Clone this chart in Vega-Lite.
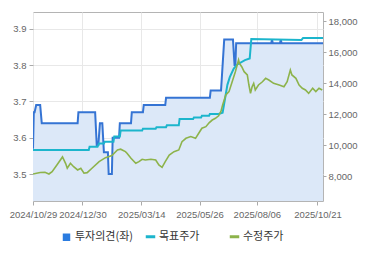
{
  "$schema": "https://vega.github.io/schema/vega-lite/v6.json",
  "autosize": "none",
  "width": 290,
  "height": 189,
  "padding": {"left": 33, "top": 12, "right": 47, "bottom": 54},
  "background": "white",
  "config": {
    "view": {"stroke": "#b4b4b4", "strokeWidth": 1},
    "axis": {"labelFont": "Liberation Sans", "labelFontSize": 9.5, "labelColor": "#666", "tickColor": "#aaa", "domain": false, "title": null, "gridColor": "#e8e8e8"}
  },
  "datasets": {
    "op": [
      {"d": "2024/10/29", "v": 3.57, "s": "투자의견(좌)"},
      {"d": "2024/10/30", "v": 3.67, "s": "투자의견(좌)"},
      {"d": "2024/10/31", "v": 3.67, "s": "투자의견(좌)"},
      {"d": "2024/11/02", "v": 3.69, "s": "투자의견(좌)"},
      {"d": "2024/11/07", "v": 3.69, "s": "투자의견(좌)"},
      {"d": "2024/11/09", "v": 3.64, "s": "투자의견(좌)"},
      {"d": "2024/12/24", "v": 3.64, "s": "투자의견(좌)"},
      {"d": "2024/12/25", "v": 3.67, "s": "투자의견(좌)"},
      {"d": "2025/01/15", "v": 3.67, "s": "투자의견(좌)"},
      {"d": "2025/01/17", "v": 3.58, "s": "투자의견(좌)"},
      {"d": "2025/01/19", "v": 3.58, "s": "투자의견(좌)"},
      {"d": "2025/01/21", "v": 3.64, "s": "투자의견(좌)"},
      {"d": "2025/01/24", "v": 3.64, "s": "투자의견(좌)"},
      {"d": "2025/01/26", "v": 3.56, "s": "투자의견(좌)"},
      {"d": "2025/01/31", "v": 3.56, "s": "투자의견(좌)"},
      {"d": "2025/02/01", "v": 3.50, "s": "투자의견(좌)"},
      {"d": "2025/02/05", "v": 3.50, "s": "투자의견(좌)"},
      {"d": "2025/02/06", "v": 3.60, "s": "투자의견(좌)"},
      {"d": "2025/02/14", "v": 3.60, "s": "투자의견(좌)"},
      {"d": "2025/02/15", "v": 3.64, "s": "투자의견(좌)"},
      {"d": "2025/03/01", "v": 3.64, "s": "투자의견(좌)"},
      {"d": "2025/03/02", "v": 3.67, "s": "투자의견(좌)"},
      {"d": "2025/03/16", "v": 3.67, "s": "투자의견(좌)"},
      {"d": "2025/03/17", "v": 3.69, "s": "투자의견(좌)"},
      {"d": "2025/04/13", "v": 3.69, "s": "투자의견(좌)"},
      {"d": "2025/04/14", "v": 3.71, "s": "투자의견(좌)"},
      {"d": "2025/06/08", "v": 3.71, "s": "투자의견(좌)"},
      {"d": "2025/06/09", "v": 3.73, "s": "투자의견(좌)"},
      {"d": "2025/06/22", "v": 3.73, "s": "투자의견(좌)"},
      {"d": "2025/06/26", "v": 3.87, "s": "투자의견(좌)"},
      {"d": "2025/07/07", "v": 3.87, "s": "투자의견(좌)"},
      {"d": "2025/07/09", "v": 3.80, "s": "투자의견(좌)"},
      {"d": "2025/07/10", "v": 3.80, "s": "투자의견(좌)"},
      {"d": "2025/07/11", "v": 3.86, "s": "투자의견(좌)"},
      {"d": "2025/08/24", "v": 3.86, "s": "투자의견(좌)"},
      {"d": "2025/08/25", "v": 3.87, "s": "투자의견(좌)"},
      {"d": "2025/08/26", "v": 3.86, "s": "투자의견(좌)"},
      {"d": "2025/09/04", "v": 3.86, "s": "투자의견(좌)"},
      {"d": "2025/09/05", "v": 3.87, "s": "투자의견(좌)"},
      {"d": "2025/09/06", "v": 3.86, "s": "투자의견(좌)"},
      {"d": "2025/10/28", "v": 3.86, "s": "투자의견(좌)"}
    ],
    "tp": [
      {"d": "2024/10/29", "v": 9700, "s": "목표주가"},
      {"d": "2025/01/07", "v": 9700, "s": "목표주가"},
      {"d": "2025/01/08", "v": 9900, "s": "목표주가"},
      {"d": "2025/01/18", "v": 9900, "s": "목표주가"},
      {"d": "2025/01/20", "v": 10120, "s": "목표주가"},
      {"d": "2025/01/26", "v": 10120, "s": "목표주가"},
      {"d": "2025/01/27", "v": 10230, "s": "목표주가"},
      {"d": "2025/02/07", "v": 10230, "s": "목표주가"},
      {"d": "2025/02/08", "v": 10560, "s": "목표주가"},
      {"d": "2025/02/15", "v": 10560, "s": "목표주가"},
      {"d": "2025/02/16", "v": 10950, "s": "목표주가"},
      {"d": "2025/03/15", "v": 10950, "s": "목표주가"},
      {"d": "2025/03/16", "v": 11070, "s": "목표주가"},
      {"d": "2025/04/01", "v": 11070, "s": "목표주가"},
      {"d": "2025/04/02", "v": 11170, "s": "목표주가"},
      {"d": "2025/04/14", "v": 11170, "s": "목표주가"},
      {"d": "2025/04/15", "v": 11290, "s": "목표주가"},
      {"d": "2025/04/30", "v": 11290, "s": "목표주가"},
      {"d": "2025/05/01", "v": 11700, "s": "목표주가"},
      {"d": "2025/05/18", "v": 11700, "s": "목표주가"},
      {"d": "2025/05/19", "v": 11800, "s": "목표주가"},
      {"d": "2025/05/28", "v": 11800, "s": "목표주가"},
      {"d": "2025/05/29", "v": 11900, "s": "목표주가"},
      {"d": "2025/06/07", "v": 11900, "s": "목표주가"},
      {"d": "2025/06/08", "v": 12020, "s": "목표주가"},
      {"d": "2025/06/19", "v": 12020, "s": "목표주가"},
      {"d": "2025/06/24", "v": 12100, "s": "목표주가"},
      {"d": "2025/06/27", "v": 13000, "s": "목표주가"},
      {"d": "2025/06/30", "v": 13900, "s": "목표주가"},
      {"d": "2025/07/03", "v": 14400, "s": "목표주가"},
      {"d": "2025/07/08", "v": 14950, "s": "목표주가"},
      {"d": "2025/07/12", "v": 15200, "s": "목표주가"},
      {"d": "2025/07/22", "v": 15500, "s": "목표주가"},
      {"d": "2025/07/28", "v": 15600, "s": "목표주가"},
      {"d": "2025/07/30", "v": 16850, "s": "목표주가"},
      {"d": "2025/10/01", "v": 16800, "s": "목표주가"},
      {"d": "2025/10/03", "v": 16930, "s": "목표주가"},
      {"d": "2025/10/28", "v": 16930, "s": "목표주가"}
    ],
    "pr": [
      {"d": "2024/10/29", "v": 8150, "s": "수정주가"},
      {"d": "2024/11/07", "v": 8240, "s": "수정주가"},
      {"d": "2024/11/13", "v": 8260, "s": "수정주가"},
      {"d": "2024/11/18", "v": 8150, "s": "수정주가"},
      {"d": "2024/11/22", "v": 8300, "s": "수정주가"},
      {"d": "2024/11/28", "v": 8730, "s": "수정주가"},
      {"d": "2024/12/05", "v": 9250, "s": "수정주가"},
      {"d": "2024/12/09", "v": 8820, "s": "수정주가"},
      {"d": "2024/12/11", "v": 8520, "s": "수정주가"},
      {"d": "2024/12/15", "v": 8840, "s": "수정주가"},
      {"d": "2024/12/19", "v": 8620, "s": "수정주가"},
      {"d": "2024/12/24", "v": 8410, "s": "수정주가"},
      {"d": "2024/12/28", "v": 8520, "s": "수정주가"},
      {"d": "2025/01/01", "v": 8200, "s": "수정주가"},
      {"d": "2025/01/05", "v": 8235, "s": "수정주가"},
      {"d": "2025/01/11", "v": 8520, "s": "수정주가"},
      {"d": "2025/01/20", "v": 8945, "s": "수정주가"},
      {"d": "2025/01/28", "v": 9200, "s": "수정주가"},
      {"d": "2025/02/05", "v": 9340, "s": "수정주가"},
      {"d": "2025/02/12", "v": 9700, "s": "수정주가"},
      {"d": "2025/02/16", "v": 9750, "s": "수정주가"},
      {"d": "2025/02/22", "v": 9590, "s": "수정주가"},
      {"d": "2025/02/24", "v": 9490, "s": "수정주가"},
      {"d": "2025/03/01", "v": 9160, "s": "수정주가"},
      {"d": "2025/03/07", "v": 8840, "s": "수정주가"},
      {"d": "2025/03/11", "v": 8945, "s": "수정주가"},
      {"d": "2025/03/15", "v": 9100, "s": "수정주가"},
      {"d": "2025/03/19", "v": 9050, "s": "수정주가"},
      {"d": "2025/03/26", "v": 9100, "s": "수정주가"},
      {"d": "2025/04/01", "v": 9050, "s": "수정주가"},
      {"d": "2025/04/05", "v": 8730, "s": "수정주가"},
      {"d": "2025/04/09", "v": 8580, "s": "수정주가"},
      {"d": "2025/04/13", "v": 8945, "s": "수정주가"},
      {"d": "2025/04/18", "v": 9375, "s": "수정주가"},
      {"d": "2025/04/24", "v": 9590, "s": "수정주가"},
      {"d": "2025/04/30", "v": 9700, "s": "수정주가"},
      {"d": "2025/05/04", "v": 10230, "s": "수정주가"},
      {"d": "2025/05/09", "v": 10450, "s": "수정주가"},
      {"d": "2025/05/15", "v": 10560, "s": "수정주가"},
      {"d": "2025/05/21", "v": 10450, "s": "수정주가"},
      {"d": "2025/05/25", "v": 10780, "s": "수정주가"},
      {"d": "2025/05/29", "v": 11100, "s": "수정주가"},
      {"d": "2025/06/03", "v": 11200, "s": "수정주가"},
      {"d": "2025/06/07", "v": 11450, "s": "수정주가"},
      {"d": "2025/06/11", "v": 11630, "s": "수정주가"},
      {"d": "2025/06/15", "v": 11740, "s": "수정주가"},
      {"d": "2025/06/19", "v": 11900, "s": "수정주가"},
      {"d": "2025/06/22", "v": 12200, "s": "수정주가"},
      {"d": "2025/06/24", "v": 12600, "s": "수정주가"},
      {"d": "2025/06/28", "v": 13250, "s": "수정주가"},
      {"d": "2025/07/02", "v": 13460, "s": "수정주가"},
      {"d": "2025/07/06", "v": 14100, "s": "수정주가"},
      {"d": "2025/07/10", "v": 14750, "s": "수정주가"},
      {"d": "2025/07/14", "v": 15500, "s": "수정주가"},
      {"d": "2025/07/15", "v": 15290, "s": "수정주가"},
      {"d": "2025/07/18", "v": 15070, "s": "수정주가"},
      {"d": "2025/07/21", "v": 14750, "s": "수정주가"},
      {"d": "2025/07/25", "v": 14540, "s": "수정주가"},
      {"d": "2025/07/27", "v": 13890, "s": "수정주가"},
      {"d": "2025/07/29", "v": 13350, "s": "수정주가"},
      {"d": "2025/07/31", "v": 13780, "s": "수정주가"},
      {"d": "2025/08/02", "v": 14000, "s": "수정주가"},
      {"d": "2025/08/04", "v": 13570, "s": "수정주가"},
      {"d": "2025/08/08", "v": 13890, "s": "수정주가"},
      {"d": "2025/08/13", "v": 14100, "s": "수정주가"},
      {"d": "2025/08/17", "v": 14320, "s": "수정주가"},
      {"d": "2025/08/21", "v": 14210, "s": "수정주가"},
      {"d": "2025/08/27", "v": 14000, "s": "수정주가"},
      {"d": "2025/09/03", "v": 13890, "s": "수정주가"},
      {"d": "2025/09/09", "v": 13780, "s": "수정주가"},
      {"d": "2025/09/13", "v": 14100, "s": "수정주가"},
      {"d": "2025/09/17", "v": 14860, "s": "수정주가"},
      {"d": "2025/09/19", "v": 14540, "s": "수정주가"},
      {"d": "2025/09/24", "v": 14320, "s": "수정주가"},
      {"d": "2025/09/28", "v": 13890, "s": "수정주가"},
      {"d": "2025/10/02", "v": 13680, "s": "수정주가"},
      {"d": "2025/10/06", "v": 13570, "s": "수정주가"},
      {"d": "2025/10/10", "v": 13350, "s": "수정주가"},
      {"d": "2025/10/15", "v": 13680, "s": "수정주가"},
      {"d": "2025/10/19", "v": 13460, "s": "수정주가"},
      {"d": "2025/10/23", "v": 13680, "s": "수정주가"},
      {"d": "2025/10/27", "v": 13570, "s": "수정주가"}
    ]
  },
  "layer": [
    {
      "data": {"name": "op"},
      "encoding": {
        "x": {
          "field": "d", "type": "temporal",
          "scale": {"domain": [{"year": 2024, "month": 10, "date": 29}, {"year": 2025, "month": 10, "date": 28}]},
          "axis": {
            "values": [
              {"year": 2024, "month": 10, "date": 29},
              {"year": 2024, "month": 12, "date": 30},
              {"year": 2025, "month": 3, "date": 14},
              {"year": 2025, "month": 5, "date": 26},
              {"year": 2025, "month": 8, "date": 6},
              {"year": 2025, "month": 10, "date": 21}
            ],
            "format": "%Y/%m/%d", "labelFlush": false, "labelOverlap": false,
            "grid": true, "tickSize": 4, "labelPadding": 4
          }
        },
        "y": {
          "field": "v", "type": "quantitative",
          "scale": {"domain": [3.426, 3.946], "nice": false, "zero": false},
          "axis": {"orient": "left", "values": [3.5, 3.6, 3.7, 3.8, 3.9], "labelExpr": "format(datum.value, '.1f')", "grid": true, "tickSize": 4, "labelPadding": 3}
        }
      },
      "layer": [
        {"mark": {"type": "area", "color": "#dce8f8", "opacity": 1, "clip": true}},
        {
          "mark": {"type": "line", "strokeWidth": 2, "clip": true},
          "encoding": {
            "color": {
              "field": "s", "type": "nominal",
              "scale": {"domain": ["투자의견(좌)", "목표주가", "수정주가"], "range": ["#3574d4", "#1cb5cc", "#8db34b"]},
              "legend": {
                "orient": "none", "legendX": 28, "legendY": 219, "direction": "horizontal",
                "title": null, "columns": 3, "gridAlign": "all", "columnPadding": 5, "padding": 0,
                "labelFont": "Noto Sans CJK KR", "labelFontSize": 11, "labelColor": "#333",
                "labelOffset": 3, "symbolSize": 100, "symbolStrokeWidth": 3,
                "encode": {
                  "symbols": {
                    "update": {
                      "shape": {"signal": "datum.value === '투자의견(좌)' ? 'square' : 'stroke'"},
                      "fill": {"signal": "datum.value === '투자의견(좌)' ? '#2b7ce0' : 'transparent'"},
                      "size": {"signal": "datum.value === '투자의견(좌)' ? 56 : 90"},
                      "strokeWidth": {"signal": "datum.value === '투자의견(좌)' ? 0 : 3"}
                    }
                  }
                }
              }
            }
          }
        }
      ]
    },
    {
      "encoding": {
        "x": {"field": "d", "type": "temporal"},
        "y": {
          "field": "v", "type": "quantitative",
          "scale": {"domain": [6406, 18600], "nice": false, "zero": false},
          "axis": {"orient": "right", "values": [8000, 10000, 12000, 14000, 16000, 18000], "labelExpr": "format(datum.value, ',')", "grid": false, "tickSize": 3, "labelPadding": 2}
        },
        "color": {"field": "s", "type": "nominal"}
      },
      "layer": [
        {"data": {"name": "tp"}, "mark": {"type": "line", "strokeWidth": 2, "clip": true}},
        {"data": {"name": "pr"}, "mark": {"type": "line", "strokeWidth": 1.6, "clip": true}}
      ]
    }
  ],
  "resolve": {"scale": {"y": "independent"}}
}
